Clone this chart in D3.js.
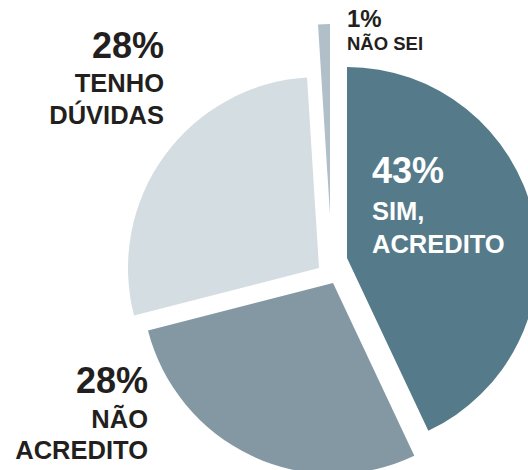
<!DOCTYPE html>
<html>
<head>
<meta charset="utf-8">
<script src="https://cdn.jsdelivr.net/npm/d3@7"></script>
<style>
  html, body { margin: 0; padding: 0; background: #fff; }
  svg { display: block; }
  text { font-family: "Liberation Sans", Arial, Helvetica, sans-serif; font-weight: bold; }
</style>
</head>
<body>
<div id="chart"></div>
<script>
// data
const categories = ["SIM, ACREDITO", "NÃO ACREDITO", "TENHO DÚVIDAS", "NÃO SEI"];
const values = [43, 28, 28, 1];
const labelLines = [["SIM,", "ACREDITO"], ["NÃO", "ACREDITO"], ["TENHO", "DÚVIDAS"], ["NÃO SEI"]];
const colors = ["#557b8a", "#8498a4", "#d4dde2", "#b0bfc8"];

// layout: how far each slice is pulled out of the pie
const explode = [[17, -2], [3, 23], [-11, 8], [0, -45]];

const width = 528, height = 470;
const cx = 330, cy = 260, radius = 191;

const svg = d3.select("#chart")
    .append("svg")
    .attr("width", width)
    .attr("height", height);

const pie = d3.pie().sort(null).value(d => d);
const arc = d3.arc().innerRadius(0).outerRadius(radius);

const slices = pie(values);

svg.append("g")
    .attr("transform", `translate(${cx},${cy})`)
    .selectAll("path")
    .data(slices)
    .join("path")
    .attr("transform", (d, i) => `translate(${explode[i][0]},${explode[i][1]})`)
    .attr("fill", (d, i) => colors[i])
    .attr("d", arc);

// label placement per slice
const labelPos = [
    { x: 372, y: 183, anchor: "start", fill: "#ffffff", pct: 36, size: 25.5, gaps: [36.5, 33.5] },
    { x: 148, y: 393, anchor: "end", fill: "#231f20", pct: 36, size: 25.5, gaps: [35, 31] },
    { x: 164, y: 58, anchor: "end", fill: "#231f20", pct: 36, size: 25.5, gaps: [34, 32] },
    { x: 347, y: 27, anchor: "start", fill: "#231f20", pct: 24, size: 18.5, gaps: [23] }
];

const labels = svg.append("g")
    .selectAll("text")
    .data(slices)
    .join("text")
    .attr("text-anchor", (d, i) => labelPos[i].anchor)
    .attr("fill", (d, i) => labelPos[i].fill);

labels.each(function (d, i) {
    const p = labelPos[i];
    const t = d3.select(this);
    t.append("tspan")
        .attr("x", p.x)
        .attr("y", p.y)
        .attr("font-size", p.pct + "px")
        .text(values[i] + "%");
    let y = p.y;
    labelLines[i].forEach((line, j) => {
        y += p.gaps[j];
        t.append("tspan")
            .attr("x", p.x)
            .attr("y", y)
            .attr("font-size", p.size + "px")
            .text(line);
    });
});
</script>
</body>
</html>
